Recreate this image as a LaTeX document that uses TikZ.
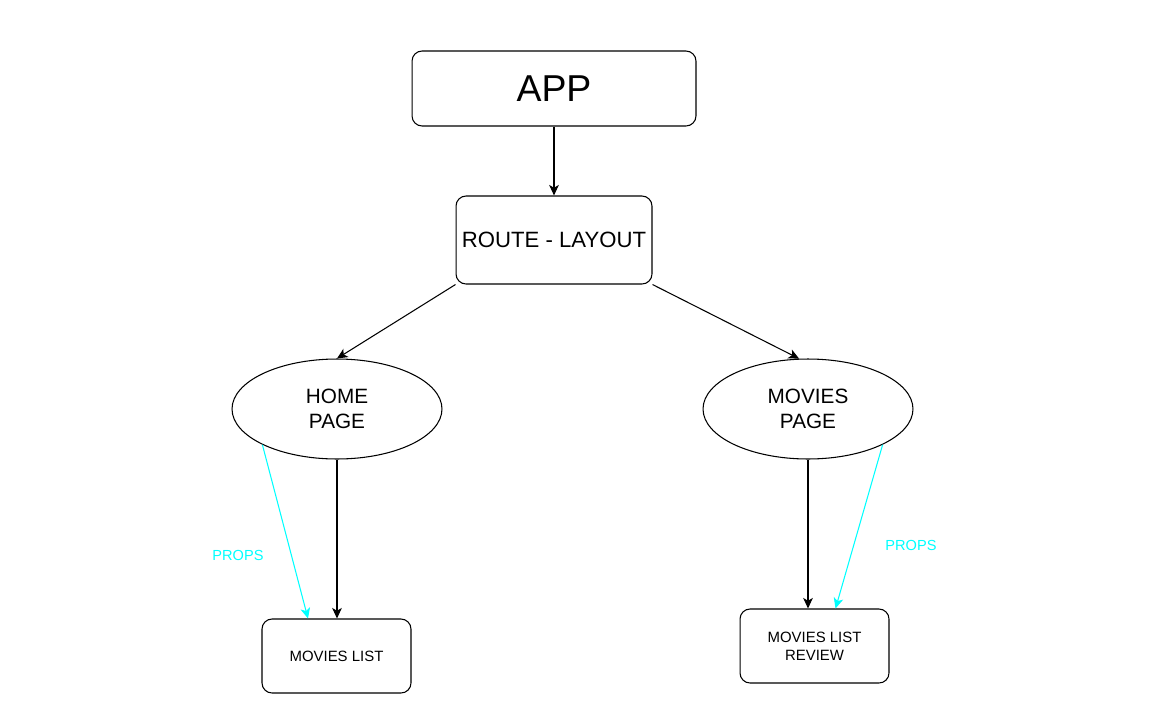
\documentclass[tikz,border=0pt]{standalone}
\usepackage{fontspec}
\setmainfont{Liberation Sans}
\usetikzlibrary{arrows.meta,calc,shapes.geometric}
\definecolor{propcyan}{RGB}{0,255,255}
\begin{document}
\begin{tikzpicture}[x=.02cm,y=-.02cm,>={Stealth[length=6pt,width=5.5pt,inset=1.6pt]},
box/.style={draw,rounded corners=.2cm,line width=.6pt,align=center,inner sep=0pt},
page/.style={draw,ellipse,line width=.6pt,minimum width=4.2cm,minimum height=2cm,align=center,inner sep=0pt,font=\fontsize{11.8}{14.2}\selectfont},
link/.style={->,line width=.6pt},props/.style={->,propcyan,line width=.6pt},
proplabel/.style={propcyan,font=\fontsize{8.3}{10}\selectfont}]
\useasboundingbox(0,0)rectangle(1172,720);
\node[box,minimum width=5.68cm,minimum height=1.5cm,font=\fontsize{21.3}{25}\selectfont](app)at(554,88.5){APP};
\node[box,minimum width=3.92cm,minimum height=1.76cm,font=\fontsize{12.6}{15}\selectfont](route)at(554,240){ROUTE - LAYOUT};
\node[page](home)at(337,409){HOME\\PAGE};\node[page](movies)at(808,409){MOVIES\\PAGE};
\node[box,minimum width=2.98cm,minimum height=1.48cm,font=\fontsize{8.5}{10.2}\selectfont](list)at(336.5,656){MOVIES LIST};
\node[box,minimum width=2.98cm,minimum height=1.48cm,font=\fontsize{8.5}{10.2}\selectfont](review)at(814.5,646){MOVIES LIST\\REVIEW};
\draw[link](app)--(route);\draw[link](route.south west)--(home.north);\draw[link](route.south east)--(movies.100);
\draw[link](home.south)--(home.south|-list.north);\draw[link](movies.south)--(movies.south|-review.north);
\draw[props](home.south west)--($(list.north)!.38!(list.north west)$);\draw[props](movies.south east)--($(review.north)!.28!(review.north east)$);
\node[proplabel](p1)at(238,555){PROPS};\node[proplabel](p2)at(911,545){PROPS};
\end{tikzpicture}
\end{document}
